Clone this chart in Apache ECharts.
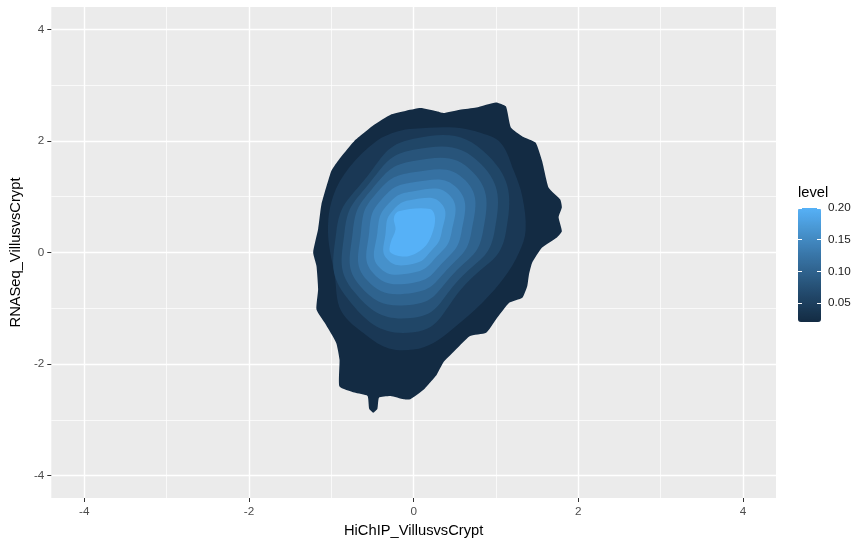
<!DOCTYPE html>
<html>
<head>
<meta charset="utf-8">
<script src="https://cdn.jsdelivr.net/npm/echarts@6/dist/echarts.min.js"></script>
<style>html,body{margin:0;padding:0;background:#fff;}#chart{width:867px;height:544px;}</style>
</head>
<body>
<div id="chart"></div>
<script>
// ---- data ----
const xTicks = [-4, -2, 0, 2, 4];
const yTicks = [-4, -2, 0, 2, 4];
const xMinorTicks = [-3, -1, 1, 3];
const yMinorTicks = [-3, -1, 1, 3];
const legendTicks = [0.05, 0.10, 0.15, 0.20];
const levels = [0.02, 0.04, 0.06, 0.08, 0.10, 0.12, 0.14, 0.16, 0.18, 0.20];

const contour_002 = [[0.36,2.50],[0.56,2.56],[0.76,2.60],[1.00,2.69],[1.12,2.62],[1.18,2.24],[1.32,2.08],[1.48,1.97],[1.56,1.64],[1.64,1.16],[1.78,0.95],[1.80,0.81],[1.76,0.63],[1.80,0.38],[1.74,0.27],[1.56,0.09],[1.44,-0.18],[1.40,-0.40],[1.38,-0.60],[1.32,-0.81],[1.16,-0.90],[1.00,-1.20],[0.88,-1.44],[0.68,-1.50],[0.48,-1.79],[0.36,-1.97],[0.28,-2.19],[0.20,-2.33],[0.12,-2.46],[-0.04,-2.63],[-0.12,-2.63],[-0.28,-2.57],[-0.42,-2.60],[-0.44,-2.80],[-0.49,-2.87],[-0.54,-2.80],[-0.56,-2.57],[-0.72,-2.51],[-0.90,-2.40],[-0.90,-1.92],[-0.94,-1.62],[-1.08,-1.26],[-1.18,-1.02],[-1.16,-0.66],[-1.18,-0.24],[-1.22,0.00],[-1.16,0.42],[-1.12,0.86],[-1.00,1.46],[-0.92,1.64],[-0.72,2.00],[-0.48,2.29],[-0.28,2.47],[0.08,2.59],[0.28,2.53]];
const contour_004 = [[0,2.22],[0.50,2.24],[0.82,2.14],[1.06,1.96],[1.22,1.45],[1.32,1.00],[1.36,0.40],[1.28,0.00],[1.10,-0.45],[0.84,-0.89],[0.48,-1.36],[0.24,-1.62],[0,-1.74],[-0.30,-1.72],[-0.56,-1.50],[-0.88,-1.05],[-0.96,-0.40],[-1.04,0.36],[-0.98,1.00],[-0.78,1.53],[-0.45,2.00],[-0.20,2.17]];
const contour_006 = [[0,2.04],[0.91,1.73],[1.12,0.36],[0.63,-0.57],[0,-1.43],[-0.80,-0.83],[-0.94,0.36],[-0.61,1.28]];
const contour_008 = [[0,1.84],[0.82,1.58],[0.98,0.36],[0.56,-0.47],[0,-1.17],[-0.72,-0.71],[-0.84,0.36],[-0.56,1.20]];
const contour_010 = [[0,1.64],[0.72,1.44],[0.84,0.36],[0.49,-0.37],[0,-0.93],[-0.65,-0.60],[-0.74,0.36],[-0.51,1.13]];
const contour_012 = [[0,1.44],[0.63,1.29],[0.70,0.36],[0.43,-0.27],[0,-0.72],[-0.57,-0.49],[-0.64,0.36],[-0.46,1.05]];
const contour_014 = [[0,1.26],[0.53,1.15],[0.58,0.36],[0.36,-0.17],[0,-0.54],[-0.49,-0.37],[-0.54,0.36],[-0.39,0.95]];
const contour_016 = [[0,1.10],[0.44,1.02],[0.46,0.36],[0.29,-0.06],[0,-0.36],[-0.42,-0.26],[-0.44,0.36],[-0.32,0.85]];
const contour_018 = [[0,0.95],[0.34,0.87],[0.34,0.36],[0.22,0.04],[0,-0.20],[-0.32,-0.12],[-0.34,0.36],[-0.26,0.74]];
const contour_020 = [[-0.18,0.74],[0.20,0.78],[0.26,0.62],[0.22,0.32],[0.12,0.08],[-0.08,-0.07],[-0.28,0.00],[-0.28,0.17],[-0.22,0.41],[-0.24,0.62]];

const contours = [contour_002, contour_004, contour_006, contour_008, contour_010, contour_012, contour_014, contour_016, contour_018, contour_020];

// ---- colour scale (Lab interpolation like ggplot2) ----
function s2l(c){c/=255;return c<=0.04045?c/12.92:Math.pow((c+0.055)/1.055,2.4);}
function l2s(c){c=c<=0.0031308?12.92*c:1.055*Math.pow(c,1/2.4)-0.055;return Math.round(Math.max(0,Math.min(1,c))*255);}
function hex2lab(h){
  const r=s2l(parseInt(h.slice(1,3),16)),g=s2l(parseInt(h.slice(3,5),16)),b=s2l(parseInt(h.slice(5,7),16));
  const X=(0.4124*r+0.3576*g+0.1805*b)/0.95047,Y=(0.2126*r+0.7152*g+0.0722*b),Z=(0.0193*r+0.1192*g+0.9505*b)/1.08883;
  const f=t=>t>0.008856?Math.cbrt(t):7.787*t+16/116;
  const fx=f(X),fy=f(Y),fz=f(Z);
  return [116*fy-16,500*(fx-fy),200*(fy-fz)];
}
function lab2rgb(L,a,b){
  const fy=(L+16)/116,fx=fy+a/500,fz=fy-b/200;
  const fi=t=>t>0.206893?t*t*t:(t-16/116)/7.787;
  const X=fi(fx)*0.95047,Y=fi(fy),Z=fi(fz)*1.08883;
  const r=3.2406*X-1.5372*Y-0.4986*Z,g=-0.9689*X+1.8758*Y+0.0415*Z,bb=0.0557*X-0.2040*Y+1.0570*Z;
  return 'rgb('+l2s(r)+','+l2s(g)+','+l2s(bb)+')';
}
const lowLab = hex2lab('#132B43'), highLab = hex2lab('#56B1F7');
const colorStops = [];
for (let i = 0; i <= 12; i++) {
  const t = i / 12;
  colorStops.push(lab2rgb(lowLab[0]+(highLab[0]-lowLab[0])*t, lowLab[1]+(highLab[1]-lowLab[1])*t, lowLab[2]+(highLab[2]-lowLab[2])*t));
}

const FONT = '"Liberation Sans", Arial, sans-serif';
const chart = echarts.init(document.getElementById('chart'), null, {renderer: 'canvas'});

const seriesData = levels.map((lv, i) => [contours[i][0][0], contours[i][0][1], lv]);

const tickStyle = {show: true, length: 4, lineStyle: {color: '#333333', width: 1}};
const labelStyle = {color: '#4D4D4D', fontSize: 11.7, fontFamily: FONT};

chart.setOption({
  animation: false,
  backgroundColor: '#ffffff',
  grid: [
    {left: 43, top: 7, width: 733, height: 491, show: true, backgroundColor: '#EBEBEB', borderWidth: 0, containLabel: false},
    {left: 798, top: 208, width: 23, height: 114, show: false, containLabel: false}
  ],
  xAxis: [
    {type: 'value', gridIndex: 0, min: -4.4, max: 4.4, position: 'bottom',
     axisLine: {show: false, onZero: false},
     axisTick: Object.assign({customValues: xTicks}, tickStyle),
     axisLabel: Object.assign({customValues: xTicks, margin: 8}, labelStyle),
     splitLine: {show: true, lineStyle: {color: '#ffffff', width: 1.4}},
     name: 'HiChIP_VillusvsCrypt', nameLocation: 'middle', nameGap: 25,
     nameTextStyle: {color: '#000000', fontSize: 14.7, fontFamily: FONT}},
    {type: 'value', gridIndex: 0, min: -4.4, max: 4.4, position: 'bottom',
     axisLine: {show: false, onZero: false}, axisTick: {show: false, customValues: xMinorTicks}, axisLabel: {show: false, customValues: xMinorTicks},
     splitLine: {show: true, lineStyle: {color: '#ffffff', width: 0.7}}},
    {type: 'value', gridIndex: 1, min: 0, max: 1, show: false}
  ],
  yAxis: [
    {type: 'value', gridIndex: 0, min: -4.4, max: 4.4, position: 'left',
     axisLine: {show: false, onZero: false},
     axisTick: Object.assign({customValues: yTicks}, tickStyle),
     axisLabel: Object.assign({customValues: yTicks, margin: 7}, labelStyle),
     splitLine: {show: true, lineStyle: {color: '#ffffff', width: 1.4}},
     name: 'RNASeq_VillusvsCrypt', nameLocation: 'middle', nameGap: 20,
     nameTextStyle: {color: '#000000', fontSize: 14.7, fontFamily: FONT}},
    {type: 'value', gridIndex: 0, min: -4.4, max: 4.4, position: 'left',
     axisLine: {show: false, onZero: false}, axisTick: {show: false, customValues: yMinorTicks}, axisLabel: {show: false, customValues: yMinorTicks},
     splitLine: {show: true, lineStyle: {color: '#ffffff', width: 0.7}}},
    {type: 'value', gridIndex: 1, min: 0.02, max: 0.20, position: 'left', z: 10,
     axisLine: {show: false, onZero: false},
     axisTick: {show: true, inside: true, length: 4, customValues: legendTicks, lineStyle: {color: '#ffffff', width: 1}},
     axisLabel: {show: false, customValues: legendTicks},
     splitLine: {show: false},
     name: 'level', nameLocation: 'end', nameGap: 8,
     nameTextStyle: {color: '#000000', fontSize: 14.7, fontFamily: FONT, align: 'left', verticalAlign: 'bottom'}},
    {type: 'value', gridIndex: 1, min: 0.02, max: 0.20, position: 'right', z: 10,
     axisLine: {show: false, onZero: false},
     axisTick: {show: true, inside: true, length: 4, customValues: legendTicks, lineStyle: {color: '#ffffff', width: 1}},
     axisLabel: {show: true, customValues: legendTicks, margin: 7, color: '#1A1A1A', fontSize: 11.7, fontFamily: FONT,
                 formatter: v => v.toFixed(2)},
     splitLine: {show: false}}
  ],
  visualMap: [{
    type: 'continuous', seriesIndex: 0, dimension: 2, min: 0.02, max: 0.20,
    left: 798, top: 208, itemWidth: 23, itemHeight: 114, padding: 0,
    calculable: false, hoverLink: false, realtime: false, orient: 'vertical',
    inRange: {color: colorStops}, textStyle: {color: 'transparent'}
  }],
  series: [{
    type: 'custom', coordinateSystem: 'cartesian2d', xAxisIndex: 0, yAxisIndex: 0,
    silent: true, encode: {x: 0, y: 1},
    data: seriesData,
    renderItem: function (params, api) {
      const i = params.dataIndex;
      const pts = contours[i].map(p => api.coord(p));
      return {
        type: 'polygon',
        shape: {points: pts, smooth: i === 0 ? 0.15 : (i === 1 || i === 9 ? 0.35 : 0.5)},
        style: {fill: api.visual('color'), stroke: null}
      };
    }
  }]
});
</script>
</body>
</html>
